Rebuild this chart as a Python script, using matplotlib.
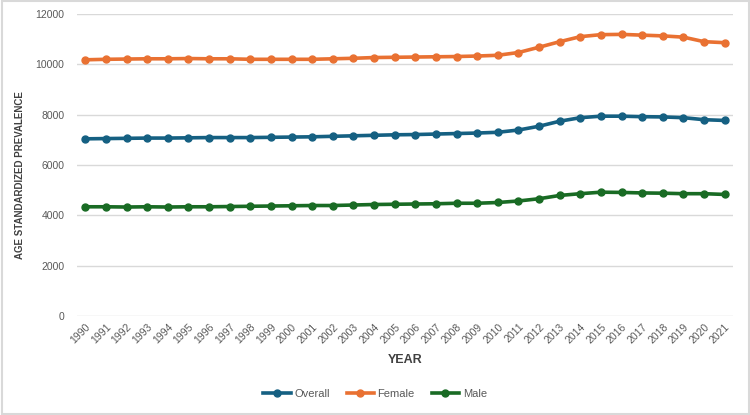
import matplotlib
matplotlib.use("Agg")
import matplotlib.pyplot as plt
from matplotlib.patches import Rectangle

years = list(range(1990, 2022))
overall = [7040, 7050, 7060, 7070, 7070, 7080, 7090, 7090, 7090, 7100, 7110, 7120, 7140, 7160, 7180, 7200,
           7210, 7230, 7250, 7270, 7300, 7390, 7540, 7740, 7880, 7940, 7940, 7920, 7910, 7880, 7800, 7770]
female = [10180, 10200, 10210, 10220, 10220, 10230, 10220, 10220, 10200, 10200, 10200, 10200, 10220, 10240,
          10270, 10280, 10290, 10300, 10310, 10330, 10360, 10470, 10680, 10900, 11100, 11180, 11190, 11160,
          11130, 11080, 10900, 10860]
male = [4340, 4340, 4330, 4340, 4330, 4340, 4340, 4350, 4360, 4370, 4380, 4390, 4390, 4410, 4430, 4440,
        4450, 4460, 4480, 4480, 4510, 4570, 4660, 4790, 4860, 4920, 4910, 4890, 4880, 4860, 4860, 4830]
series = [("Overall", overall, "#156082"), ("Female", female, "#E97132"), ("Male", male, "#196B24")]
yticks = [0, 2000, 4000, 6000, 8000, 10000, 12000]

plt.rcParams['font.family'] = ['Liberation Sans', 'DejaVu Sans']

fig = plt.figure(figsize=(7.5, 4.15), dpi=100)
ax = fig.add_axes([77/750, 1-316/415, (733-77)/750, (316-14)/415])
fig.patches.append(Rectangle((0.002, 0.003), 0.996, 0.994, transform=fig.transFigure,
                             fill=False, edgecolor="#d9d9d9", linewidth=1.5))

for name, vals, col in series:
    ax.plot(years, vals, color=col, linewidth=2.6, marker='o', markersize=5, label=name)

ax.set_ylim(0, 12000)
ax.set_yticks(yticks)
ax.set_xlim(1989.6, 2021.4)
ax.set_xticks(years)
ax.set_xticklabels([str(y) for y in years], rotation=45, ha='right', rotation_mode='anchor')
ax.tick_params(axis='both', length=0, labelsize=7.5, colors="#595959")
ax.tick_params(axis='x', pad=4)
ax.tick_params(axis='y', pad=9)
ax.grid(axis='y', color="#d9d9d9", linewidth=1)
ax.set_axisbelow(True)
for s in ax.spines.values():
    s.set_visible(False)

ax.set_ylabel("AGE STANDARDIZED PREVALENCE", fontsize=7, fontweight='bold', color="#404040")
ax.yaxis.set_label_coords(25/750, 1-175/415, transform=fig.transFigure)
ax.set_xlabel("YEAR", fontsize=9, fontweight='bold', color="#404040", labelpad=6)

fig.legend(loc='center', bbox_to_anchor=(0.5, 1-394/415), ncol=3, frameon=False, fontsize=8,
           handlelength=2.5, columnspacing=1.5, handletextpad=0.3, labelcolor="#595959")

fig.savefig("out.png", dpi=100)
